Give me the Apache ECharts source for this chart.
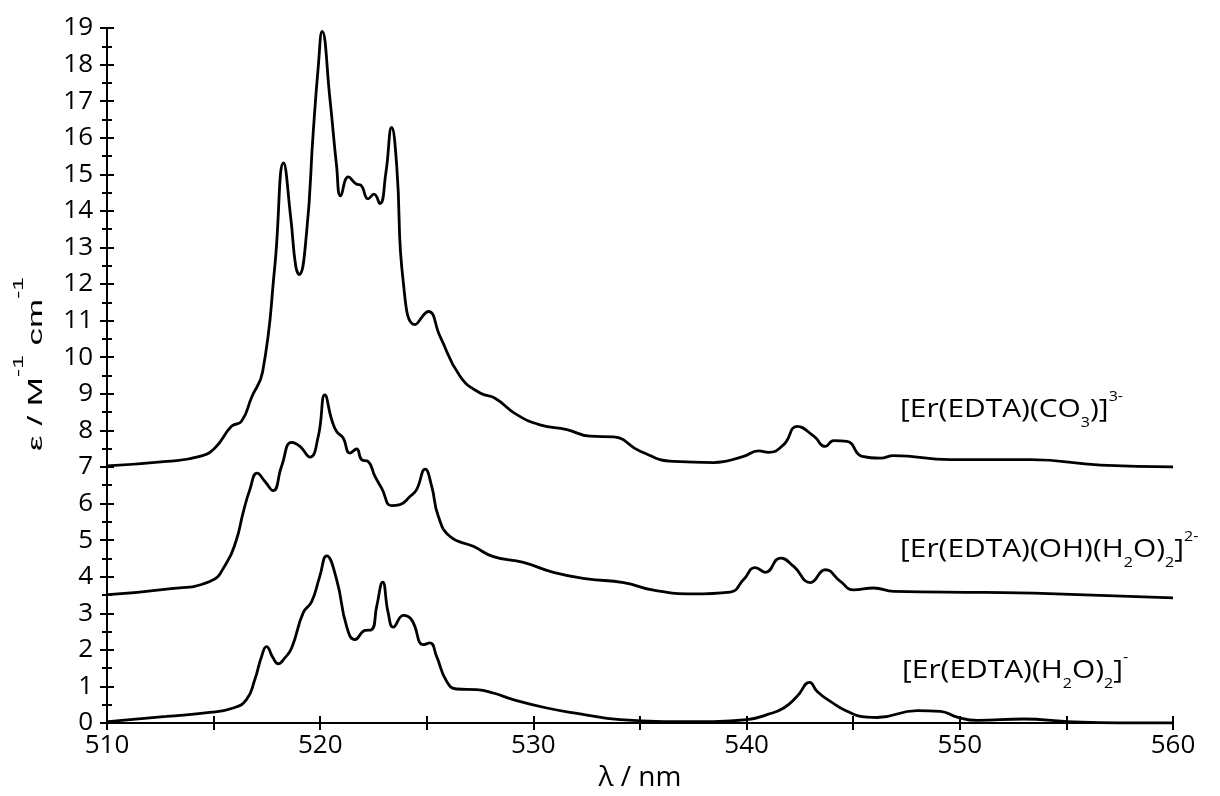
<!DOCTYPE html>
<html>
<head>
<meta charset="utf-8" />
<title>Er(EDTA) spectra</title>
<script src="https://cdn.jsdelivr.net/npm/echarts@6/dist/echarts.min.js"></script>
<style>
  html, body { margin: 0; padding: 0; background: #fff; }
  #main { width: 1220px; height: 796px; }
</style>
</head>
<body>
<div id="main"></div>
<script type="text/javascript">
/* wavelength (nm) and epsilon */
var co3X = [510.0, 512.8, 514.35, 515.06, 515.84, 516.31, 516.78, 517.3, 517.87, 518.28, 518.62, 518.85, 519.01, 519.36, 519.67, 519.91, 520.09, 520.46, 520.77, 520.96, 521.32, 521.68, 521.91, 522.25, 522.52, 522.8, 523.08, 523.35, 523.59, 523.9, 524.45, 525.07, 525.62, 526.56, 527.5, 528.2, 529.22, 530.31, 531.57, 532.66, 533.76, 535.01, 536.57, 538.45, 539.86, 540.56, 541.03, 541.74, 542.37, 543.15, 543.69, 544.08, 544.71, 545.42, 546.28, 546.9, 549.56, 553.32, 556.6, 560.0];
var co3Y = [7.03, 7.15, 7.29, 7.52, 8.11, 8.25, 8.9, 9.6, 12.48, 15.31, 13.8, 12.5, 12.26, 13.4, 16.13, 17.95, 18.91, 17.04, 15.22, 14.41, 14.93, 14.74, 14.7, 14.33, 14.46, 14.2, 15.04, 16.28, 15.22, 12.03, 10.89, 11.25, 10.57, 9.48, 9.02, 8.88, 8.43, 8.15, 8.02, 7.84, 7.82, 7.43, 7.15, 7.12, 7.29, 7.44, 7.4, 7.61, 8.11, 7.84, 7.56, 7.72, 7.7, 7.29, 7.24, 7.31, 7.2, 7.2, 7.05, 7.0];

var ohX = [510.05, 512.79, 514.82, 515.6, 516.07, 516.38, 516.7, 517.04, 517.4, 517.79, 518.19, 518.66, 519.05, 519.52, 519.91, 520.22, 520.54, 520.77, 521.08, 521.39, 521.71, 521.94, 522.25, 522.57, 522.88, 523.35, 523.74, 524.21, 524.52, 524.92, 525.23, 525.54, 526.09, 527.18, 528.12, 529.53, 530.94, 532.51, 534.23, 535.63, 537.51, 539.23, 539.86, 540.41, 540.88, 541.58, 542.21, 542.99, 543.69, 544.4, 545.02, 545.96, 546.9, 551.13, 553.47, 560.0];
var ohY = [3.51, 3.66, 3.87, 4.37, 5.01, 5.74, 6.38, 6.83, 6.61, 6.35, 7.02, 7.67, 7.56, 7.27, 7.84, 8.97, 8.29, 7.97, 7.79, 7.38, 7.49, 7.2, 7.15, 6.74, 6.42, 5.94, 5.97, 6.19, 6.38, 6.94, 6.47, 5.65, 5.1, 4.83, 4.55, 4.39, 4.12, 3.94, 3.84, 3.63, 3.53, 3.58, 3.92, 4.25, 4.12, 4.51, 4.28, 3.84, 4.19, 3.87, 3.64, 3.69, 3.6, 3.57, 3.55, 3.42];

var aquaX = [510.05, 512.79, 514.82, 515.92, 516.54, 516.93, 517.25, 517.48, 517.79, 518.03, 518.34, 518.66, 519.2, 519.6, 519.98, 520.3, 520.77, 521.24, 521.63, 522.1, 522.41, 522.65, 522.93, 523.19, 523.43, 523.9, 524.29, 524.84, 525.15, 525.46, 525.93, 526.4, 527.34, 528.12, 529.06, 530.63, 532.19, 534.07, 536.1, 538.45, 540.02, 540.96, 541.74, 542.37, 542.96, 543.31, 543.93, 544.71, 545.65, 546.12, 548.0, 549.09, 549.88, 550.82, 553.0, 555.04, 557.4, 560.0];
var aquaY = [0.04, 0.18, 0.29, 0.41, 0.64, 1.18, 1.82, 2.09, 1.78, 1.62, 1.78, 2.05, 3.01, 3.32, 4.01, 4.57, 3.92, 2.64, 2.28, 2.53, 2.55, 3.19, 3.85, 3.01, 2.62, 2.94, 2.82, 2.14, 2.19, 1.82, 1.14, 0.93, 0.91, 0.82, 0.64, 0.41, 0.25, 0.09, 0.04, 0.04, 0.09, 0.23, 0.41, 0.73, 1.11, 0.86, 0.59, 0.32, 0.16, 0.15, 0.34, 0.32, 0.16, 0.07, 0.11, 0.04, 0.0, 0.0];

var seriesNames = ['[Er(EDTA)(CO3)]3-', '[Er(EDTA)(OH)(H2O)2]2-', '[Er(EDTA)(H2O)2]-'];
var xTicks = { min: 510, max: 560, step: 10 };
var yTicks = { min: 0, max: 19, step: 1 };

function pairs(xs, ys) {
    var out = [];
    for (var i = 0; i < xs.length; i++) out.push([xs[i], ys[i]]);
    return out;
}

var chart = echarts.init(document.getElementById('main'));
var FONT = '"Open Sans", sans-serif';
var ARIAL = '"Liberation Sans", Arial, sans-serif';

/* rich styles for sub/superscripts */
var labelRich = {
    a: { fontSize: 26, fontFamily: FONT, lineHeight: 40, color: '#000' },
    sup: { fontSize: 14, fontFamily: FONT, lineHeight: 26, verticalAlign: 'top', color: '#000' },
    sub: { fontSize: 14, fontFamily: FONT, lineHeight: 12, verticalAlign: 'bottom', color: '#000' }
};

function lineSeries(name, xs, ys) {
    return {
        name: name,
        type: 'line',
        data: pairs(xs, ys),
        showSymbol: false,
        smooth: 0.5,
        lineStyle: { color: '#000', width: 2.8 },
        silent: true,
        animation: false
    };
}

// main axis draws ticks outward, twin axis draws them inward -> crossed ticks
function xAxisDef(inside) {
    return {
        type: 'value', position: 'bottom',
        min: xTicks.min, max: xTicks.max, interval: xTicks.step,
        axisLine: { show: !inside, lineStyle: { color: '#000', width: 2 } },
        axisTick: { show: true, inside: inside, length: 7, lineStyle: { color: '#000', width: 2 } },
        minorTick: { show: true, splitNumber: 2, length: 7, lineStyle: { color: '#000', width: 2 } },
        axisLabel: { show: !inside, color: '#000', fontFamily: FONT, fontSize: 26, margin: 10 },
        splitLine: { show: false },
        name: inside ? '' : 'λ / nm',
        nameLocation: 'middle',
        nameGap: 34,
        nameTextStyle: { color: '#000', fontFamily: FONT, fontSize: 28 }
    };
}
function yAxisDef(inside) {
    return {
        type: 'value', position: 'left',
        min: yTicks.min, max: yTicks.max, interval: yTicks.step,
        axisLine: { show: !inside, lineStyle: { color: '#000', width: 2 } },
        axisTick: { show: true, inside: inside, length: 7, lineStyle: { color: '#000', width: 2 } },
        minorTick: { show: true, splitNumber: 2, length: 5, lineStyle: { color: '#000', width: 2 } },
        axisLabel: { show: !inside, color: '#000', fontFamily: FONT, fontSize: 26, margin: 14 },
        splitLine: { show: false }
    };
}

var option = {
    backgroundColor: '#fff',
    animation: false,
    grid: { left: 107, right: 47, top: 28, bottom: 73, containLabel: false, outerBoundsMode: 'none' },
    xAxis: [xAxisDef(false), xAxisDef(true)],
    yAxis: [yAxisDef(false), yAxisDef(true)],
    graphic: [
        {   // y axis title, stretched along its length like the original
            type: 'text', x: 36, y: 364, rotation: Math.PI / 2, scaleX: 1.75, scaleY: 1,
            style: {
                text: '{a|ε / M}{sup|-1}{a| cm}{sup|-1}',
                align: 'center', verticalAlign: 'middle',
                rich: {
                    a: { fontSize: 20, fontFamily: ARIAL, lineHeight: 48, color: '#000' },
                    sup: { fontSize: 14, fontFamily: ARIAL, lineHeight: 20, verticalAlign: 'top', color: '#000' }
                }
            }
        },
        {
            type: 'text', x: 900, y: 410, scaleX: 1.15,
            style: { text: '{a|[Er(EDTA)(CO}{sub|3}{a|)]}{sup|3-}', align: 'left', verticalAlign: 'middle', rich: labelRich }
        },
        {
            type: 'text', x: 900, y: 550, scaleX: 1.15,
            style: { text: '{a|[Er(EDTA)(OH)(H}{sub|2}{a|O)}{sub|2}{a|]}{sup|2-}', align: 'left', verticalAlign: 'middle', rich: labelRich }
        },
        {
            type: 'text', x: 902, y: 671, scaleX: 1.15,
            style: { text: '{a|[Er(EDTA)(H}{sub|2}{a|O)}{sub|2}{a|]}{sup|-}', align: 'left', verticalAlign: 'middle', rich: labelRich }
        }
    ],
    series: [
        lineSeries(seriesNames[0], co3X, co3Y),
        lineSeries(seriesNames[1], ohX, ohY),
        lineSeries(seriesNames[2], aquaX, aquaY)
    ]
};

chart.setOption(option);
window.onresize = chart.resize;
</script>
</body>
</html>
